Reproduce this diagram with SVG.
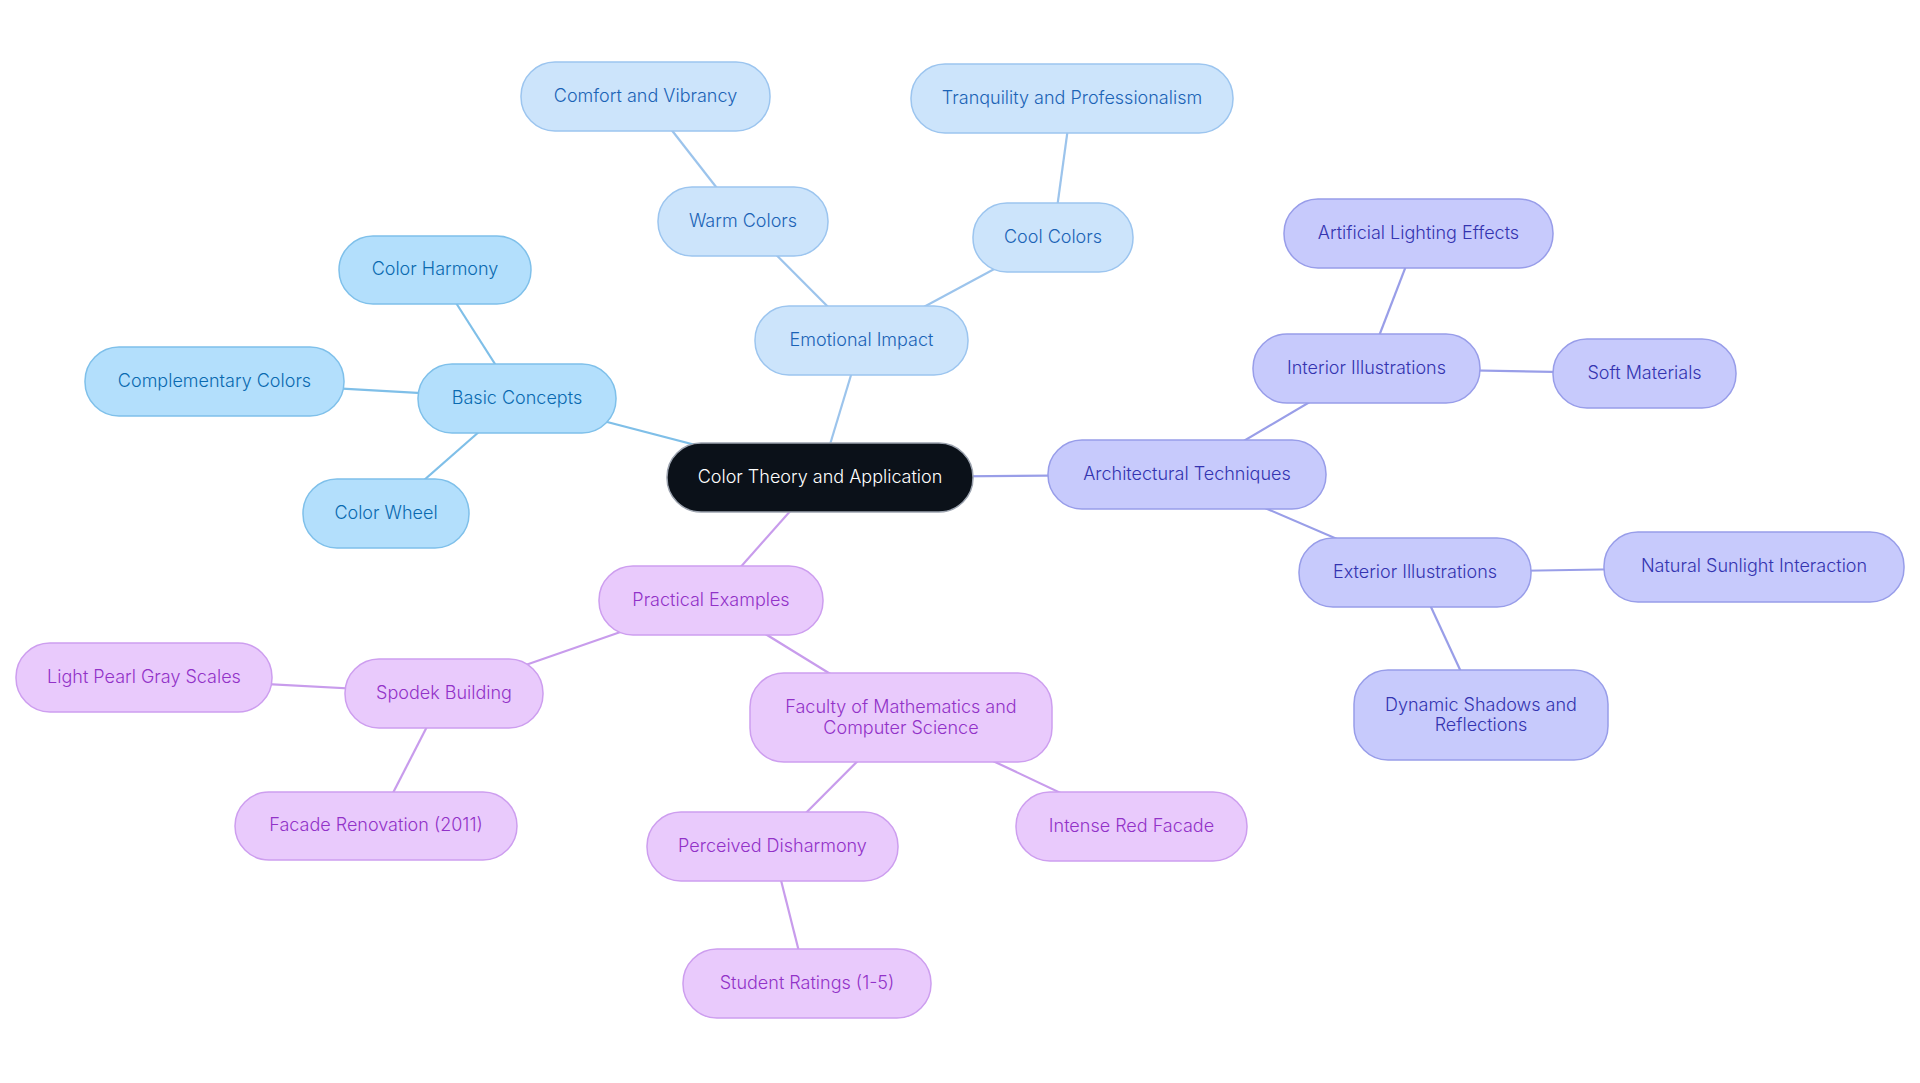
<svg xmlns="http://www.w3.org/2000/svg" width="1920" height="1083" viewBox="0 0 1920 1083">
<style>
text{font-family:Inter,"Noto Sans","Liberation Sans",sans-serif;font-size:18px;font-weight:300;text-anchor:middle}
.n rect{stroke-width:1.5}
.root rect{fill:#0b1119;stroke:#9ca3af}
.root text{fill:#ffffff}
.b rect{fill:#b3dffc;stroke:#7fc0ea}
.b text{fill:#0a6ab0}
.e rect{fill:#cce4fb;stroke:#9cc5ef}
.e text{fill:#1b63b6}
.a rect{fill:#c7cafc;stroke:#989de9}
.a text{fill:#3434b0}
.p rect{fill:#e9cafc;stroke:#cd9eef}
.p text{fill:#9232c8}
#connectors line{stroke-width:2.2}
.lb{stroke:#7fbfe8}
.le{stroke:#9cc4ec}
.la{stroke:#999ee8}
.lp{stroke:#c89cec}
</style>
<rect width="1920" height="1083" fill="#ffffff"/>
<g id="connectors">
<line class="lb" x1="820" y1="477.5" x2="517" y2="398.5"/>
<line class="lb" x1="517" y1="398.5" x2="435" y2="270"/>
<line class="lb" x1="517" y1="398.5" x2="214.5" y2="381.5"/>
<line class="lb" x1="517" y1="398.5" x2="386" y2="513.5"/>
<line class="le" x1="820" y1="477.5" x2="861.5" y2="340.5"/>
<line class="le" x1="861.5" y1="340.5" x2="743" y2="221.5"/>
<line class="le" x1="743" y1="221.5" x2="645.5" y2="96.5"/>
<line class="le" x1="861.5" y1="340.5" x2="1053" y2="237.5"/>
<line class="le" x1="1053" y1="237.5" x2="1072" y2="98.5"/>
<line class="la" x1="820" y1="477.5" x2="1187" y2="474.5"/>
<line class="la" x1="1187" y1="474.5" x2="1366.5" y2="368.5"/>
<line class="la" x1="1366.5" y1="368.5" x2="1418.5" y2="233.5"/>
<line class="la" x1="1366.5" y1="368.5" x2="1644.5" y2="373.5"/>
<line class="la" x1="1187" y1="474.5" x2="1415" y2="572.5"/>
<line class="la" x1="1415" y1="572.5" x2="1754" y2="567"/>
<line class="la" x1="1415" y1="572.5" x2="1481" y2="715"/>
<line class="lp" x1="820" y1="477.5" x2="711" y2="600.5"/>
<line class="lp" x1="711" y1="600.5" x2="444" y2="693.5"/>
<line class="lp" x1="444" y1="693.5" x2="144" y2="677.5"/>
<line class="lp" x1="444" y1="693.5" x2="376" y2="826"/>
<line class="lp" x1="711" y1="600.5" x2="901" y2="717.5"/>
<line class="lp" x1="901" y1="717.5" x2="772.5" y2="846.5"/>
<line class="lp" x1="772.5" y1="846.5" x2="807" y2="983.5"/>
<line class="lp" x1="901" y1="717.5" x2="1131.5" y2="826.5"/>
</g>
<g id="root" class="n root"><rect x="667" y="443" width="306" height="69" rx="34"/><text x="820" y="477.5" dy="0.3em">Color Theory and Application</text></g>
<g id="basic" class="n b"><rect x="418" y="364" width="198" height="69" rx="34"/><text x="517" y="398.5" dy="0.3em">Basic Concepts</text></g>
<g id="harmony" class="n b"><rect x="339" y="236" width="192" height="68" rx="34"/><text x="435" y="270" dy="0.3em">Color Harmony</text></g>
<g id="complementary" class="n b"><rect x="85" y="347" width="259" height="69" rx="34"/><text x="214.5" y="381.5" dy="0.3em">Complementary Colors</text></g>
<g id="wheel" class="n b"><rect x="303" y="479" width="166" height="69" rx="34"/><text x="386" y="513.5" dy="0.3em">Color Wheel</text></g>
<g id="emotional" class="n e"><rect x="755" y="306" width="213" height="69" rx="34"/><text x="861.5" y="340.5" dy="0.3em">Emotional Impact</text></g>
<g id="warm" class="n e"><rect x="658" y="187" width="170" height="69" rx="34"/><text x="743" y="221.5" dy="0.3em">Warm Colors</text></g>
<g id="comfort" class="n e"><rect x="521" y="62" width="249" height="69" rx="34"/><text x="645.5" y="96.5" dy="0.3em">Comfort and Vibrancy</text></g>
<g id="cool" class="n e"><rect x="973" y="203" width="160" height="69" rx="34"/><text x="1053" y="237.5" dy="0.3em">Cool Colors</text></g>
<g id="tranquility" class="n e"><rect x="911" y="64" width="322" height="69" rx="34"/><text x="1072" y="98.5" dy="0.3em">Tranquility and Professionalism</text></g>
<g id="architectural" class="n a"><rect x="1048" y="440" width="278" height="69" rx="34"/><text x="1187" y="474.5" dy="0.3em">Architectural Techniques</text></g>
<g id="interior" class="n a"><rect x="1253" y="334" width="227" height="69" rx="34"/><text x="1366.5" y="368.5" dy="0.3em">Interior Illustrations</text></g>
<g id="artificial" class="n a"><rect x="1284" y="199" width="269" height="69" rx="34"/><text x="1418.5" y="233.5" dy="0.3em">Artificial Lighting Effects</text></g>
<g id="soft" class="n a"><rect x="1553" y="339" width="183" height="69" rx="34"/><text x="1644.5" y="373.5" dy="0.3em">Soft Materials</text></g>
<g id="exterior" class="n a"><rect x="1299" y="538" width="232" height="69" rx="34"/><text x="1415" y="572.5" dy="0.3em">Exterior Illustrations</text></g>
<g id="natural" class="n a"><rect x="1604" y="532" width="300" height="70" rx="34"/><text x="1754" y="567" dy="0.3em">Natural Sunlight Interaction</text></g>
<g id="dynamic" class="n a"><rect x="1354" y="670" width="254" height="90" rx="34"/><text x="1481" y="715"><tspan x="1481" dy="-4.5">Dynamic Shadows and</tspan><tspan x="1481" dy="20.5">Reflections</tspan></text></g>
<g id="practical" class="n p"><rect x="599" y="566" width="224" height="69" rx="34"/><text x="711" y="600.5" dy="0.3em">Practical Examples</text></g>
<g id="spodek" class="n p"><rect x="345" y="659" width="198" height="69" rx="34"/><text x="444" y="693.5" dy="0.3em">Spodek Building</text></g>
<g id="pearl" class="n p"><rect x="16" y="643" width="256" height="69" rx="34"/><text x="144" y="677.5" dy="0.3em">Light Pearl Gray Scales</text></g>
<g id="facade" class="n p"><rect x="235" y="792" width="282" height="68" rx="34"/><text x="376" y="826" dy="0.3em">Facade Renovation (2011)</text></g>
<g id="faculty" class="n p"><rect x="750" y="673" width="302" height="89" rx="34"/><text x="901" y="717.5"><tspan x="901" dy="-4.5">Faculty of Mathematics and</tspan><tspan x="901" dy="20.5">Computer Science</tspan></text></g>
<g id="perceived" class="n p"><rect x="647" y="812" width="251" height="69" rx="34"/><text x="772.5" y="846.5" dy="0.3em">Perceived Disharmony</text></g>
<g id="intense" class="n p"><rect x="1016" y="792" width="231" height="69" rx="34"/><text x="1131.5" y="826.5" dy="0.3em">Intense Red Facade</text></g>
<g id="student" class="n p"><rect x="683" y="949" width="248" height="69" rx="34"/><text x="807" y="983.5" dy="0.3em">Student Ratings (1-5)</text></g>
</svg>
